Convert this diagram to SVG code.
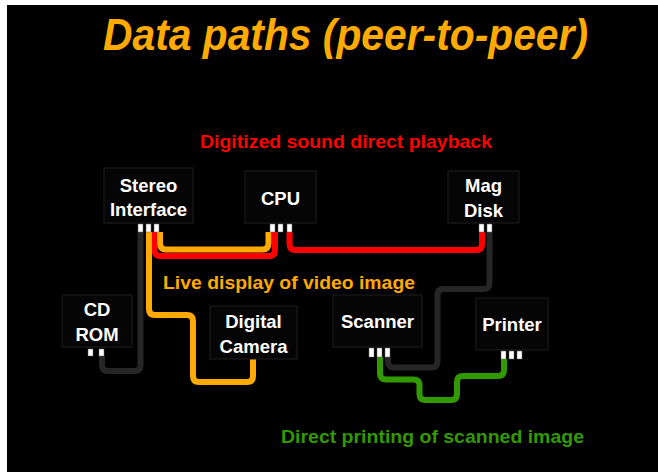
<svg xmlns="http://www.w3.org/2000/svg" width="658" height="472" viewBox="0 0 658 472">
<style>
.box{fill:#050505;stroke:#1e1e1e;stroke-width:1}
.nt{font-family:"Liberation Sans",Arial,sans-serif;font-weight:bold;font-size:18.5px;fill:#ffffff;text-anchor:middle}
.port{fill:#ffffff;stroke:#666;stroke-width:0.5}
.w{fill:none;stroke-width:6;stroke-linejoin:round}
.lbl{font-family:"Liberation Sans",Arial,sans-serif;font-weight:bold;font-size:19px;text-anchor:middle}
</style>
<rect x="0" y="0" width="658" height="472" fill="#ffffff"/>
<rect x="7" y="5" width="651" height="467" fill="#000000"/>
<text x="345.5" y="50" font-family="'Liberation Sans',Arial,sans-serif" font-weight="bold" font-style="italic" font-size="45" fill="#ffaa00" text-anchor="middle" textLength="485" lengthAdjust="spacingAndGlyphs">Data paths (peer-to-peer)</text>

<g id="connectors">
<path class="w" stroke="#262626" stroke-width="5" d="M140.5,232 V365 Q140.5,371 134.5,371 H108 Q102,371 102,365 V356"/>
<path class="w" stroke="#262626" stroke-width="5" d="M489.5,232 V283 Q489.5,289 483.5,289 H443.5 Q437.5,289 437.5,295 V361.5 Q437.5,367.5 431.5,367.5 H394 Q388,367.5 388,361.5 V357"/>
<path class="w" stroke="#ff0000" d="M154.5,232 V250 Q154.5,256 160.5,256 H269 Q275,256 275,250 V232"/>
<path class="w" stroke="#ffaa00" d="M160,232 V243.5 Q160,249.5 166,249.5 H262.5 Q268.5,249.5 268.5,243.5 V232"/>
<path class="w" stroke="#ff0000" d="M289.5,232 V244 Q289.5,250 295.5,250 H476 Q482,250 482,244 V232"/>
<path class="w" stroke="#ffaa00" d="M149,232 V309 Q149,315 155,315 H187 Q193,315 193,321 V376 Q193,382 199,382 H247 Q253,382 253,376 V359"/>
<path class="w" stroke="#339900" d="M380,357 V373.5 Q380,379.5 386,379.5 H413.5 Q419.5,379.5 419.5,385.5 V394 Q419.5,400 425.5,400 H451 Q457,400 457,394 V382 Q457,376 463,376 H498 Q504,376 504,370 V359"/>
</g>

<g id="stereo">
<rect class="box" x="104" y="168" width="89" height="55"/>
<text class="nt" x="148.5" y="192">Stereo</text>
<text class="nt" x="148.5" y="216">Interface</text>
<rect class="port" x="138" y="224" width="5" height="8"/>
<rect class="port" x="146" y="224" width="5" height="8"/>
<rect class="port" x="154" y="224" width="5" height="8"/>
</g>
<g id="cpu">
<rect class="box" x="245" y="171" width="71" height="52"/>
<text class="nt" x="280.5" y="205">CPU</text>
<rect class="port" x="270" y="224" width="5" height="8"/>
<rect class="port" x="278" y="224" width="5" height="8"/>
<rect class="port" x="287" y="224" width="5" height="8"/>
</g>
<g id="magdisk">
<rect class="box" x="448" y="171" width="71" height="52"/>
<text class="nt" x="483.5" y="192">Mag</text>
<text class="nt" x="483.5" y="217">Disk</text>
<rect class="port" x="479" y="224" width="5" height="8"/>
<rect class="port" x="487" y="224" width="5" height="8"/>
</g>
<g id="cdrom">
<rect class="box" x="62" y="295" width="70" height="52"/>
<text class="nt" x="97" y="316">CD</text>
<text class="nt" x="97" y="341">ROM</text>
<rect class="port" x="88" y="349" width="5" height="7"/>
<rect class="port" x="99" y="349" width="5" height="7"/>
</g>
<g id="camera">
<rect class="box" x="210" y="306" width="87" height="53"/>
<text class="nt" x="253.5" y="328">Digital</text>
<text class="nt" x="253.5" y="353">Camera</text>
</g>
<g id="scanner">
<rect class="box" x="333" y="295" width="89" height="52"/>
<text class="nt" x="377.5" y="328">Scanner</text>
<rect class="port" x="369" y="348" width="5" height="9"/>
<rect class="port" x="377" y="348" width="5" height="9"/>
<rect class="port" x="385" y="348" width="5" height="9"/>
</g>
<g id="printer">
<rect class="box" x="476" y="298" width="72" height="52"/>
<text class="nt" x="512" y="331">Printer</text>
<rect class="port" x="501" y="351" width="5" height="8"/>
<rect class="port" x="509" y="351" width="5" height="8"/>
<rect class="port" x="517" y="351" width="5" height="8"/>
</g>

<g id="labels">
<text class="lbl" x="346" y="148" fill="#ff0000" textLength="292" lengthAdjust="spacingAndGlyphs">Digitized sound direct playback</text>
<text class="lbl" x="289" y="289" fill="#ffaa00" textLength="252" lengthAdjust="spacingAndGlyphs">Live display of video image</text>
<text class="lbl" x="432.5" y="443" fill="#339900" textLength="303" lengthAdjust="spacingAndGlyphs">Direct printing of scanned image</text>
</g>
</svg>
